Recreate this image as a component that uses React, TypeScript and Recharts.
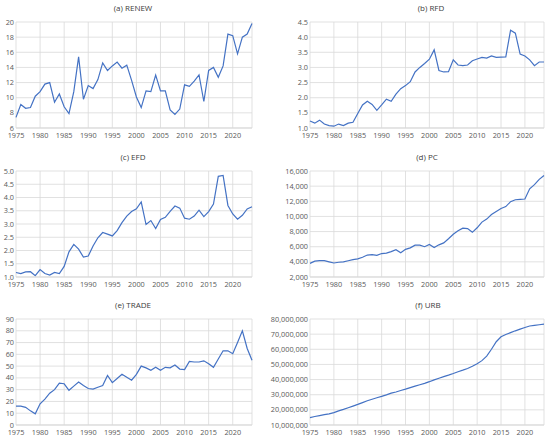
import { LineChart, Line, XAxis, YAxis, CartesianGrid } from 'recharts';

const years = Array.from({ length: 50 }, (_, i) => 1975 + i);
const yearTicks = [1975, 1980, 1985, 1990, 1995, 2000, 2005, 2010, 2015, 2020];

const renew = [
  7.4, 9.1, 8.6, 8.7, 10.2, 10.8, 11.8, 12.0, 9.4, 10.5,
  8.8, 7.9, 10.8, 15.4, 9.8, 11.6, 11.2, 12.4, 14.6, 13.6,
  14.2, 14.7, 13.9, 14.3, 12.3, 10.1, 8.7, 10.9, 10.8, 13.0,
  10.9, 10.9, 8.4, 7.8, 8.5, 11.7, 11.5, 12.2, 13.0, 9.5,
  13.6, 14.0, 12.7, 14.2, 18.4, 18.2, 15.8, 18.0, 18.4, 19.8,
];
const rfd = [
  1.23, 1.16, 1.26, 1.13, 1.08, 1.06, 1.13, 1.08, 1.16, 1.19,
  1.48, 1.76, 1.88, 1.78, 1.58, 1.76, 1.95, 1.88, 2.12, 2.3,
  2.4, 2.53, 2.85, 3.0, 3.13, 3.27, 3.58, 2.9, 2.85, 2.86,
  3.25, 3.08, 3.06, 3.08, 3.22, 3.28, 3.33, 3.31, 3.38, 3.33,
  3.34, 3.35, 4.23, 4.13, 3.44, 3.38, 3.25, 3.06, 3.18, 3.18,
];
const efd = [
  1.17, 1.13, 1.19, 1.2, 1.05, 1.28, 1.13, 1.07, 1.17, 1.13,
  1.4, 1.95, 2.23, 2.05, 1.75, 1.79, 2.17, 2.48, 2.68, 2.62,
  2.55, 2.75, 3.05, 3.3, 3.47, 3.57, 3.83, 2.98, 3.13, 2.83,
  3.17, 3.25, 3.48, 3.68, 3.6, 3.22, 3.18, 3.3, 3.52, 3.28,
  3.47, 3.75, 4.8, 4.83, 3.7, 3.38, 3.18, 3.33, 3.57, 3.65,
];
const pc = [
  3800, 4100, 4150, 4150, 4000, 3850, 3950, 4000, 4150, 4300,
  4400, 4600, 4900, 4950, 4850, 5100, 5150, 5350, 5600, 5200,
  5650, 5850, 6200, 6200, 6000, 6300, 5900, 6250, 6500, 7050,
  7650, 8100, 8450, 8400, 7900, 8500, 9250, 9650, 10250, 10650,
  11050, 11300, 11950, 12200, 12250, 12300, 13650, 14200, 14900, 15400,
];
const trade = [
  16, 16, 15, 12, 9.5, 18, 22, 27, 30, 35.5,
  35, 29.5, 33, 36.5, 33.5, 31, 30.5, 32, 33.5, 42,
  36, 39.5, 43, 40.5, 38, 43, 50, 48.5, 46.5, 49,
  46.5, 49, 48.5, 51, 47.5, 47, 54, 53.5, 53.5, 54.5,
  52, 49, 56, 63, 63, 60.5, 70, 80, 65, 55,
];
const urb = [
  14900000, 15600000, 16200000, 16800000, 17400000, 18200000, 19300000, 20300000, 21400000, 22500000,
  23600000, 24800000, 26000000, 27000000, 28000000, 28900000, 29900000, 31000000, 31800000, 32800000,
  33700000, 34700000, 35700000, 36600000, 37500000, 38600000, 39800000, 40900000, 41900000, 42900000,
  44000000, 45200000, 46200000, 47300000, 48800000, 50500000, 52500000, 55500000, 60000000, 65000000,
  68300000, 69800000, 71000000, 72200000, 73300000, 74400000, 75400000, 75800000, 76200000, 76600000,
];

const renewTicks = [6, 8, 10, 12, 14, 16, 18, 20];
const rfdTicks = [1.0, 1.5, 2.0, 2.5, 3.0, 3.5, 4.0, 4.5];
const efdTicks = [1.0, 1.5, 2.0, 2.5, 3.0, 3.5, 4.0, 4.5, 5.0];
const pcTicks = [2000, 4000, 6000, 8000, 10000, 12000, 14000, 16000];
const tradeTicks = [0, 10, 20, 30, 40, 50, 60, 70, 80, 90];
const urbTicks = [10000000, 20000000, 30000000, 40000000, 50000000, 60000000, 70000000, 80000000];

const font = "'Open Sans', 'Noto Sans', sans-serif";
const tickStyle = { fill: '#595959', fontSize: 7.3, fontFamily: font };
const grid = '#d9d9d9';

const commas = (v: number) => v.toLocaleString('en-US');
const oneDp = (v: number) => v.toFixed(1);

type PanelProps = {
  title: string;
  values: number[];
  ticks: number[];
  fmt?: (v: number) => string;
  left: number;
  top: number;
  right?: boolean;
  titleX: number;
};

const Panel = ({ title, values, ticks, fmt, left, top, right, titleX }: PanelProps) => {
  const data = years.map((year, i) => ({ year, value: values[i] }));
  const width = right ? 290 : 258;
  const axisW = right ? 50 : 16;
  return (
    <>
      <div
        style={{
          position: 'absolute',
          left: titleX - 60,
          width: 120,
          top: top + 2,
          textAlign: 'center',
          fontFamily: font,
          fontSize: 8,
          color: '#404040',
          lineHeight: '12px',
        }}
      >
        {title}
      </div>
      <div style={{ position: 'absolute', left, top }}>
        <LineChart width={width} height={142} data={data} margin={{ top: 22, right: 6, left: 0, bottom: 0 }}>
          <CartesianGrid stroke={grid} strokeWidth={0.8} />
          <XAxis
            dataKey="year"
            type="number"
            domain={[1975, 2024]}
            ticks={yearTicks}
            interval={0}
            tickLine={false}
            axisLine={{ stroke: grid }}
            tickSize={0}
            tickMargin={4.5}
            height={14}
            tick={tickStyle}
          />
          <YAxis
            type="number"
            domain={[ticks[0], ticks[ticks.length - 1]]}
            ticks={ticks}
            interval={0}
            tickFormatter={fmt}
            tickLine={false}
            axisLine={false}
            tickSize={0}
            tickMargin={2}
            width={axisW}
            tick={tickStyle}
          />
          <Line
            type="linear"
            dataKey="value"
            stroke="#4472C4"
            strokeWidth={1.2}
            dot={false}
            isAnimationActive={false}
          />
        </LineChart>
      </div>
    </>
  );
};

export default function App() {
  return (
    <div style={{ position: 'absolute', left: 0, top: 0, width: 550, height: 437, background: '#fff', overflow: 'hidden' }}>
      <Panel title="(a) RENEW" values={renew} ticks={renewTicks} left={0} top={0} titleX={133} />
      <Panel title="(b) RFD" values={rfd} ticks={rfdTicks} fmt={oneDp} left={260} top={0} right titleX={431} />
      <Panel title="(c) EFD" values={efd} ticks={efdTicks} fmt={oneDp} left={0} top={149} titleX={133} />
      <Panel title="(d) PC" values={pc} ticks={pcTicks} fmt={commas} left={260} top={149} right titleX={427} />
      <Panel title="(e) TRADE" values={trade} ticks={tradeTicks} left={0} top={297} titleX={133} />
      <Panel title="(f) URB" values={urb} ticks={urbTicks} fmt={commas} left={260} top={297} right titleX={428} />
    </div>
  );
}
